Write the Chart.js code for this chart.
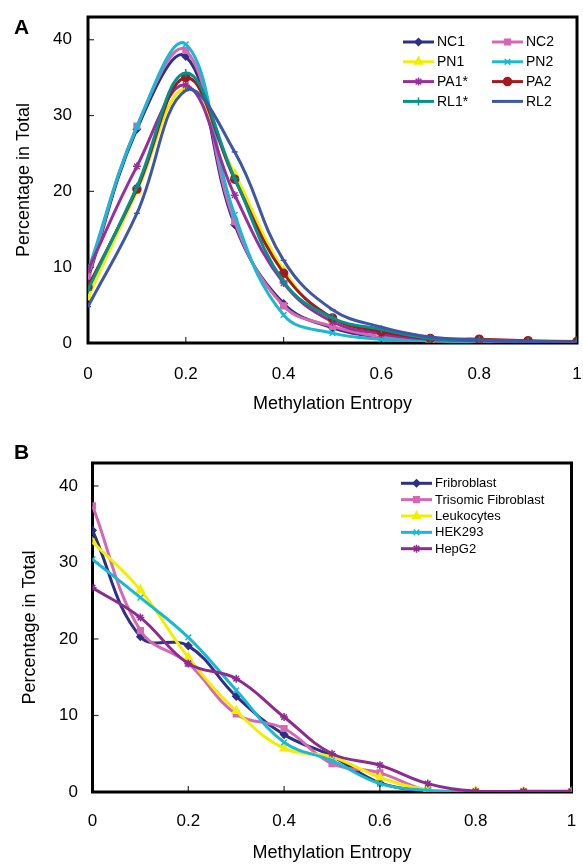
<!DOCTYPE html>
<html><head><meta charset="utf-8">
<script src="https://cdn.jsdelivr.net/npm/chart.js@4.4.1/dist/chart.umd.min.js"></script>
<style>
html,body{margin:0;padding:0;background:#fff;}
body{width:583px;height:864px;position:relative;overflow:hidden;}
#ca{position:absolute;left:0;top:0;}
#cb{position:absolute;left:0;top:430px;}
</style></head><body>
<canvas id="ca" width="583" height="430"></canvas>
<canvas id="cb" width="583" height="434"></canvas>
<script>
// ---------- data ----------
const entropyX = [0, 0.1, 0.2, 0.3, 0.4, 0.5, 0.6, 0.7, 0.8, 0.9, 1];
const xTicks = [0, 0.2, 0.4, 0.6, 0.8, 1];
const xTickLabels = ['0', '0.2', '0.4', '0.6', '0.8', '1'];
const yTicks = [0, 10, 20, 30, 40];

// Panel A
const seriesA = ['NC1', 'NC2', 'PN1', 'PN2', 'PA1*', 'PA2', 'RL1*', 'RL2'];
const nc1 = [8.5, 28.2, 37.8, 15.6, 5.2, 2.0, 0.8, 0.4, 0.2, 0.1, 0.1];
const nc2 = [8.8, 28.6, 38.6, 16.0, 4.9, 2.2, 0.8, 0.3, 0.2, 0.1, 0.1];
const pn1 = [6.0, 20.0, 33.6, 22.3, 9.6, 3.0, 1.4, 0.5, 0.3, 0.2, 0.1];
const pn2 = [9.5, 28.5, 39.4, 16.9, 3.7, 1.3, 0.5, 0.3, 0.2, 0.1, 0.1];
const pa1 = [9.6, 23.3, 34.0, 19.5, 7.9, 2.8, 1.2, 0.5, 0.3, 0.2, 0.1];
const pa2 = [7.4, 20.3, 35.0, 21.6, 9.2, 3.3, 1.5, 0.6, 0.5, 0.3, 0.2];
const rl1 = [7.0, 20.6, 35.6, 21.7, 8.1, 3.3, 1.8, 0.6, 0.4, 0.2, 0.1];
const rl2 = [4.8, 17.1, 33.3, 25.2, 10.9, 4.4, 2.1, 0.8, 0.4, 0.2, 0.1];
const valuesA = [nc1, nc2, pn1, pn2, pa1, pa2, rl1, rl2];
const colorsA = ['#2e2f86', '#d567b3', '#f1ee00', '#19b9d3', '#992d9b', '#a3191f', '#00928b', '#3e56a8'];
const stylesA = ['rectRot', 'rect', 'triangle', 'crossRot', 'star', 'circle', 'cross', 'line'];

// Panel B
const seriesB = ['Fribroblast', 'Trisomic Fibroblast', 'Leukocytes', 'HEK293', 'HepG2'];
const fribroblast = [34.2, 20.3, 19.1, 12.5, 7.5, 4.7, 1.2, 0.2, 0, 0, 0];
const trisomic = [37.4, 21.1, 16.8, 10.2, 8.3, 3.7, 2.5, 0.2, 0, 0, 0];
const leukocytes = [32.7, 26.4, 17.6, 10.6, 5.7, 4.6, 1.9, 0.3, 0.1, 0, 0];
const hek293 = [30.4, 25.4, 20.2, 13.3, 6.5, 4.1, 1.1, 0.2, 0, 0, 0];
const hepg2 = [26.7, 22.8, 16.8, 14.8, 9.8, 5.0, 3.5, 1.1, 0.1, 0.1, 0.1];
const valuesB = [fribroblast, trisomic, leukocytes, hek293, hepg2];
const colorsB = ['#2e2f86', '#d567b3', '#f1ee00', '#19b9d3', '#8e2a90'];
const stylesB = ['rectRot', 'rect', 'triangle', 'crossRot', 'star'];

// ---------- helpers ----------
const FAM = '"Liberation Sans", Arial, "DejaVu Sans", sans-serif';
const radiusFor = s => s === 'triangle' ? 4.5 : (s === 'rectRot' ? 3.5 : (s === 'line' ? 3 : 4));

function makeDatasets(names, vals, colors, styles) {
  return names.map((n, i) => ({
    label: n,
    data: vals[i].map((v, k) => ({x: entropyX[k], y: v})),
    borderColor: colors[i],
    backgroundColor: colors[i],
    pointBackgroundColor: colors[i],
    pointBorderColor: colors[i],
    pointStyle: styles[i],
    pointRadius: radiusFor(styles[i]),
    pointBorderWidth: 1.5,
    borderWidth: 3,
    tension: 0.4,
    fill: false,
    order: names.length - i
  }));
}

const framePlugin = {
  id: 'frame',
  beforeDatasetsDraw(chart) {
    const {ctx, chartArea: a, scales} = chart;
    ctx.save();
    ctx.strokeStyle = '#333';
    ctx.lineWidth = 1.2;
    xTicks.forEach(v => {
      const px = scales.x.getPixelForValue(v);
      ctx.beginPath(); ctx.moveTo(px, a.bottom); ctx.lineTo(px, a.bottom - 6); ctx.stroke();
    });
    yTicks.forEach(v => {
      const py = scales.y.getPixelForValue(v);
      ctx.beginPath(); ctx.moveTo(a.left, py); ctx.lineTo(a.left + 6, py); ctx.stroke();
    });
    ctx.strokeStyle = '#000';
    ctx.lineWidth = 3;
    ctx.strokeRect(a.left, a.top, a.right - a.left, a.bottom - a.top);
    ctx.restore();
  }
};

const legendPlugin = {
  id: 'customLegend',
  afterDraw(chart, args, o) {
    const ctx = chart.ctx;
    ctx.save();
    ctx.font = o.fontSize + 'px ' + FAM;
    ctx.textBaseline = 'middle';
    ctx.textAlign = 'left';
    chart.data.datasets.forEach((ds, i) => {
      const col = i % o.cols, row = Math.floor(i / o.cols);
      const x0 = o.x[col], y = o.y + row * o.dy;
      ctx.strokeStyle = ds.borderColor;
      ctx.fillStyle = ds.borderColor;
      ctx.lineWidth = 3;
      ctx.beginPath(); ctx.moveTo(x0, y); ctx.lineTo(x0 + o.len, y); ctx.stroke();
      if (ds.pointStyle !== 'line' && Chart.helpers && Chart.helpers.drawPoint) {
        ctx.lineWidth = 1.5;
        Chart.helpers.drawPoint(ctx, {pointStyle: ds.pointStyle, radius: ds.pointRadius, rotation: 0, borderWidth: 1.5}, x0 + o.len / 2, y);
      }
      ctx.fillStyle = '#000';
      ctx.fillText(ds.label, x0 + o.len + 3, y + 0.5);
    });
    ctx.font = 'bold 21px ' + FAM;
    ctx.fillText(o.letter, 14, o.letterY);
    ctx.restore();
  }
};

function makeChart(id, datasets, p) {
  return new Chart(document.getElementById(id), {
    type: 'line',
    data: {datasets},
    plugins: [framePlugin, legendPlugin],
    options: {
      responsive: false,
      animation: false,
      devicePixelRatio: 1,
      layout: {padding: {top: p.top, right: p.right, left: 0, bottom: 0}},
      plugins: {
        legend: {display: false},
        tooltip: {enabled: false},
        customLegend: p.legend
      },
      scales: {
        x: {
          type: 'linear', min: 0, max: 1,
          afterBuildTicks: s => { s.ticks = xTicks.map(v => ({value: v})); },
          ticks: {
            callback: v => xTickLabels[xTicks.findIndex(t => Math.abs(t - v) < 1e-6)],
            font: {size: 17, family: FAM}, color: '#000', padding: p.xPad, maxRotation: 0, autoSkip: false
          },
          grid: {display: false, drawTicks: false},
          border: {display: false},
          title: {display: true, text: 'Methylation Entropy', color: '#000',
                  font: {size: 18, family: FAM}, padding: {top: 0, bottom: p.xTitlePad}},
          afterFit: s => { s.height = p.xHeight; s.paddingLeft = 0; s.paddingRight = 0; }
        },
        y: {
          type: 'linear', min: 0, max: 43,
          afterBuildTicks: s => { s.ticks = yTicks.map(v => ({value: v})); },
          ticks: {font: {size: 17, family: FAM}, color: '#000', padding: p.yPad},
          grid: {display: false, drawTicks: false},
          border: {display: false},
          title: {display: true, text: 'Percentage in Total', color: '#000',
                  font: {size: 18, family: FAM}, padding: {top: p.yTitlePad, bottom: 0}},
          afterFit: s => { s.width = p.yWidth; s.paddingTop = 0; s.paddingBottom = 0; }
        }
      }
    }
  });
}

makeChart('ca', makeDatasets(seriesA, valuesA, colorsA, stylesA), {
  top: 17, right: 3, xHeight: 87, yWidth: 88, xPad: 21, yPad: 16, xTitlePad: 15, yTitlePad: 13,
  legend: {cols: 2, x: [403, 492], len: 31, y: 42, dy: 19.8, fontSize: 14, letter: 'A', letterY: 28}
});
makeChart('cb', makeDatasets(seriesB, valuesB, colorsB, stylesB), {
  top: 33, right: 11.5, xHeight: 72, yWidth: 92.5, xPad: 19, yPad: 14.5, xTitlePad: 0, yTitlePad: 19,
  legend: {cols: 1, x: [401], len: 31, y: 53.3, dy: 16.35, fontSize: 13, letter: 'B', letterY: 23}
});
</script>
</body></html>
